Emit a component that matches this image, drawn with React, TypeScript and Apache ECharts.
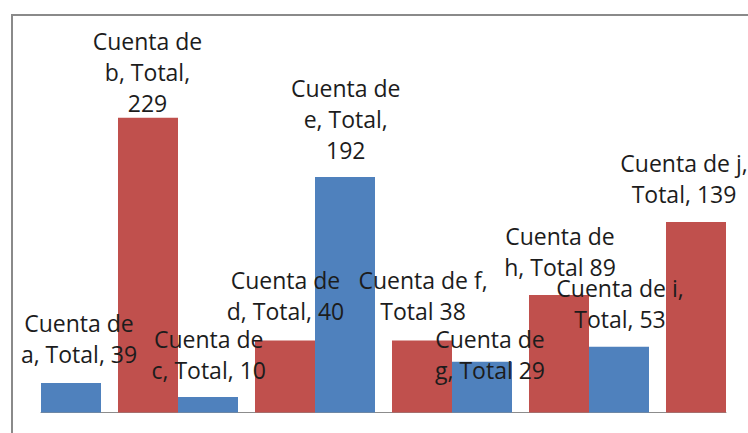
import React, { useEffect, useRef } from "react";
import * as echarts from "echarts";

// Five category slots, each holding a blue bar followed by a red bar
const categories = ["1", "2", "3", "4", "5"];
// Bar heights (axis units, scaled so that "b" = 229)
const blueValues = [23, 12, 183, 39.5, 51];
const redValues = [229, 56, 56, 91.3, 148];
// Data-label texts as printed in the reference
const blueLabels = [
  "Cuenta de\na, Total, 39",
  "Cuenta de\nc, Total, 10",
  "Cuenta de\ne, Total,\n192",
  "Cuenta de\ng, Total 29",
  "Cuenta de i,\nTotal, 53",
];
const redLabels = [
  "Cuenta de\nb, Total,\n229",
  "Cuenta de\nd, Total, 40",
  "Cuenta de f,\nTotal 38",
  "Cuenta de\nh, Total 89",
  "Cuenta de j,\nTotal, 139",
];
// Label offsets (label centre relative to bar top centre), pixels
const blueOffsets: [number, number][] = [
  [8, -44.3],
  [0.7, -42.3],
  [0.7, -57.7],
  [8, -6.7],
  [1, -43.2],
];
const redOffsets: [number, number][] = [
  [-0.5, -45.7],
  [0.5, -45],
  [1, -45.2],
  [1, -43],
  [-12, -43.7],
];

const BLUE = "#4F81BD";
const RED = "#C0504D";

export default function App() {
  const ref = useRef<HTMLDivElement>(null);
  useEffect(() => {
    document.body.style.margin = "0";
    if (!ref.current) return;
    const chart = echarts.init(ref.current, undefined, { renderer: "svg" });
    const labelBase = {
      show: true,
      position: "top" as const,
      distance: 0,
      verticalAlign: "middle" as const,
      align: "center" as const,
      fontFamily: "Open Sans",
      fontSize: 23,
      lineHeight: 31,
      color: "#1c1c1c",
    };
    const mk = (vals: number[], labels: string[], offs: [number, number][]) =>
      vals.map((v, i) => ({
        value: v,
        label: { ...labelBase, formatter: labels[i], offset: offs[i] },
      }));
    chart.setOption({
      animation: false,
      backgroundColor: "#ffffff",
      grid: { left: 41, right: 22, top: 26.3, bottom: 20.5 },
      xAxis: {
        type: "category",
        data: categories,
        axisLine: { show: true, lineStyle: { color: "#8c8c8c", width: 1 } },
        axisTick: { show: false },
        axisLabel: { show: false },
      },
      yAxis: {
        type: "value",
        min: 0,
        max: 300,
        show: false,
        splitLine: { show: false },
      },
      graphic: [
        {
          type: "rect",
          shape: { x: 12, y: 15, width: 760, height: 440 },
          style: { fill: "none", stroke: "#8a8a8a", lineWidth: 2 },
          silent: true,
        },
      ],
      series: [
        {
          type: "bar",
          name: "azul",
          data: mk(blueValues, blueLabels, blueOffsets),
          barWidth: 60,
          barGap: "28.33%",
          itemStyle: { color: BLUE },
          z: 2,
        },
        {
          type: "bar",
          name: "rojo",
          data: mk(redValues, redLabels, redOffsets),
          barWidth: 60,
          itemStyle: { color: RED },
          z: 2,
        },
      ],
    });
    return () => chart.dispose();
  }, []);
  return <div ref={ref} style={{ width: 748, height: 433 }} />;
}
